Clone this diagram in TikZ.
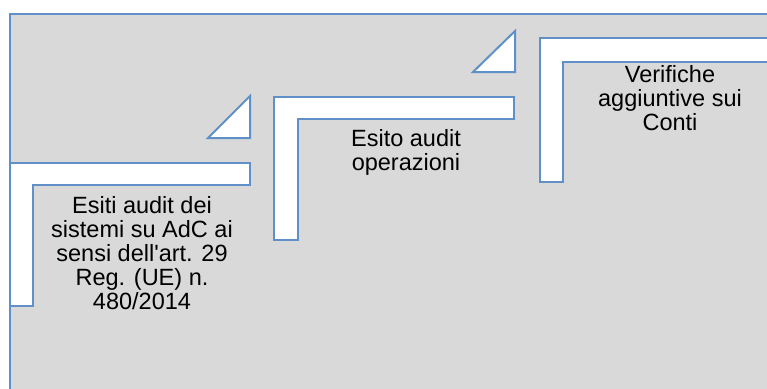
\documentclass[tikz,border=0pt]{standalone}
\usepackage{fontspec}
\setmainfont{Liberation Sans}[Ligatures=TeXOff]
\definecolor{bg}{HTML}{D9D9D9}
\definecolor{bl}{RGB}{95,145,200}
\begin{document}
\begin{tikzpicture}[x=1pt,y=-1pt,
  shapeline/.style={draw=bl,line width=2pt,fill=white,line join=miter},
  lbl/.style={align=center,font=\fontsize{23.5}{24}\selectfont,inner sep=0pt,text=black}]
\useasboundingbox (0,0) rectangle (767,388);
\clip (0,0) rectangle (767,388);
\fill[bg] (10,14) rectangle (790,400);
\draw[bl,line width=1.5pt] (10,400) -- (10,14) -- (790,14);
% step 1
\draw[shapeline] (10,306) -- (10,163) -- (250,163) -- (250,185) -- (33,185) -- (33,306) -- cycle;
\draw[shapeline] (208,138) -- (250,138) -- (250,96) -- cycle;
% step 2
\draw[shapeline] (274,240) -- (274,97) -- (514,97) -- (514,119) -- (298,119) -- (298,240) -- cycle;
\draw[shapeline] (473,72) -- (515,72) -- (515,31) -- cycle;
% step 3
\draw[shapeline] (540,182) -- (540,38) -- (790,38) -- (790,62) -- (563,62) -- (563,182) -- cycle;
\node[lbl] (t1) at (142,253) {Esiti audit dei\\sistemi su AdC ai\\sensi dell'art. 29\\Reg. (UE) n.\\480/2014};
\node[lbl] (t2) at (406,152) {Esito audit\\operazioni};
\node[lbl] (t3) at (670,98) {Verifiche\\aggiuntive sui\\Conti};
\end{tikzpicture}
\end{document}
